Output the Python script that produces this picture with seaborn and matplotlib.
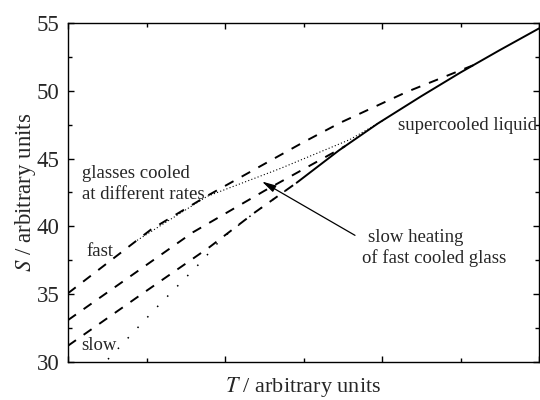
import matplotlib
matplotlib.use("Agg")
import matplotlib.pyplot as plt
from matplotlib.ticker import MultipleLocator, NullFormatter
import seaborn as sns
import pandas as pd

# ---- data ----
liquid_T = [2.92, 3.45, 3.95, 4.5, 5.0, 5.5, 6.0]
liquid_S = [43.25, 45.6, 47.6, 49.6, 51.35, 53.0, 54.6]

fast_T = [0.0, 1.06, 1.76, 2.99, 3.47, 4.32, 5.16]
fast_S = [35.07, 39.78, 42.21, 46.18, 47.65, 49.93, 51.88]

mid_T = [0.0, 1.59, 2.51, 3.53]
mid_S = [33.09, 39.56, 42.65, 45.92]

third_T = [0.0, 0.92, 1.80, 2.38, 2.92]
third_S = [31.2, 34.93, 38.46, 41.03, 43.25]

slow_T = [2.92, 2.38, 1.96, 1.69, 1.12, 0.55, 0.50]
slow_S = [43.25, 41.03, 39.12, 37.35, 33.97, 30.44, 30.15]

heat_T = [0.88, 1.77, 2.70, 3.59, 4.04]
heat_S = [38.97, 42.21, 44.26, 46.40, 47.90]

y_ticks = [30, 35, 40, 45, 50, 55]

sns.set_theme(style="white")
plt.rcParams["font.family"] = ["Liberation Serif", "DejaVu Serif"]
plt.rcParams["mathtext.fontset"] = "stix"

fig = plt.figure(figsize=(5.4, 4.0), dpi=100)
ax = fig.add_axes([68 / 540, 38 / 400, 471 / 540, 339 / 400])

def draw(T, S, ls, lw):
    df = pd.DataFrame({"T": T, "S": S})
    sns.lineplot(data=df, x="T", y="S", ax=ax, sort=False, estimator=None,
                 color="black", lw=lw)
    ln = ax.get_lines()[-1]
    ln.set_linestyle(ls)
    ln.set_dash_capstyle("butt")
    return ln

draw(liquid_T, liquid_S, "-", 1.4)
draw(fast_T, fast_S, (0, (5.0, 4.8)), 1.4)
draw(mid_T, mid_S, (0, (5.0, 4.8)), 1.4)
draw(third_T, third_S, (0, (5.0, 4.8)), 1.4)
draw(slow_T, slow_S, (0, (1.0, 8.4)), 1.1)
draw(heat_T, heat_S, (0, (1.0, 2.0)), 0.8)

ax.set_xlim(0, 6)
ax.set_ylim(30, 55)
ax.set_yticks(y_ticks)
ax.yaxis.set_minor_locator(MultipleLocator(2.5))
ax.xaxis.set_major_locator(MultipleLocator(2))
ax.xaxis.set_minor_locator(MultipleLocator(1))
ax.xaxis.set_major_formatter(NullFormatter())
ax.tick_params(which="both", direction="in", top=True, right=True,
               bottom=True, left=True, color="black", width=1.0)
ax.tick_params(which="major", length=4, labelsize=16.5, pad=6)
ax.tick_params(which="minor", length=3)
for sp in ax.spines.values():
    sp.set_color("black")
    sp.set_linewidth(1.0)

ax.set_xlabel("$T$ / arbitrary units", fontsize=16, labelpad=3.5)
ax.set_ylabel("$S$ / arbitrary units", fontsize=16.5, labelpad=-1)

fs = 13.5
ax.text(0.178, 43.9, "glasses cooled", fontsize=fs, va="center", ha="left")
ax.text(0.178, 42.35, "at different rates", fontsize=fs, va="center", ha="left")
ax.text(0.24, 38.16, "fast", fontsize=fs, va="center", ha="left")
ax.text(0.166, 31.18, "slow", fontsize=fs, va="center", ha="left")
ax.text(4.2, 47.43, "supercooled liquid", fontsize=fs, va="center", ha="left")
ax.text(3.82, 39.19, "slow heating", fontsize=fs, va="center", ha="left")
ax.text(3.75, 37.65, "of fast cooled glass", fontsize=fs, va="center", ha="left")

ax.annotate("", xy=(2.471, 43.31), xytext=(3.656, 39.34),
            arrowprops=dict(arrowstyle="-|>,head_length=0.7,head_width=0.18",
                            color="black", lw=0.9, shrinkA=0, shrinkB=0))

fig.savefig("out.png", dpi=100)
